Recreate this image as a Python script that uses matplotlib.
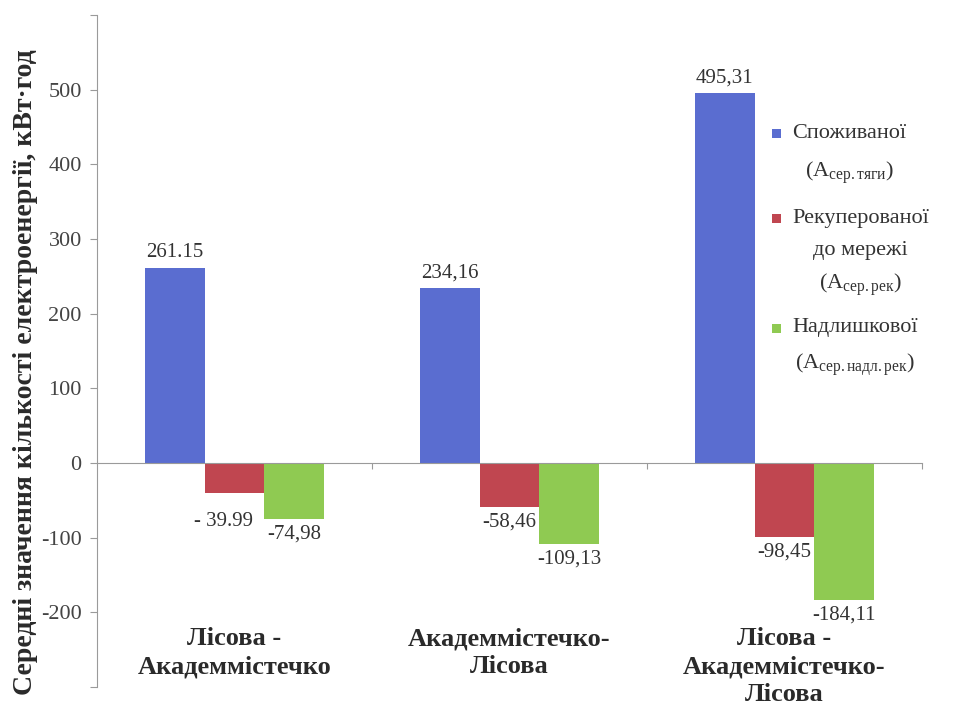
import matplotlib
matplotlib.use("Agg")
import matplotlib.pyplot as plt
import matplotlib.transforms as mtransforms
from matplotlib import font_manager as fm
from matplotlib.patches import Rectangle
import numpy as np

SERIF = "Liberation Serif"
plt.rcParams["font.family"] = [SERIF, "DejaVu Serif"]
plt.rcParams["mathtext.fontset"] = "custom"
plt.rcParams["mathtext.rm"] = SERIF
plt.rcParams["mathtext.it"] = SERIF + ":italic"
plt.rcParams["mathtext.bf"] = SERIF + ":bold"


def serif_bold(size):
    """Bold serif face loaded straight from its file."""
    for f in fm.fontManager.ttflist:
        if f.name == SERIF and f.weight == 700 and f.style == "normal":
            return fm.FontProperties(fname=f.fname, size=size)
    return fm.FontProperties(family=SERIF, weight="bold", size=size)


# Data
categories = ["Лісова -\nАкадеммістечко",
              "Академмістечко-\nЛісова",
              "Лісова -\nАкадеммістечко-\nЛісова"]
consumed = [261.15, 234.16, 495.31]
recuperated = [-39.99, -58.46, -98.45]
excess = [-74.98, -109.13, -184.11]
consumed_labels = ["261.15", "234,16", "495,31"]
recuperated_labels = ["- 39.99", "-58,46", "-98,45"]
excess_labels = ["-74,98", "-109,13", "-184,11"]
legend_lines = [
    ["Споживаної", r"(A$_{\mathrm{сер.тяги}}$)"],
    ["Рекуперованої", "до мережі", r"(A$_{\mathrm{сер.рек}}$)"],
    ["Надлишкової", r"(A$_{\mathrm{сер.надл.рек}}$)"],
]
y_ticks = list(range(-300, 601, 100))
y_tick_labels = ["" if v in (-300, 600) else str(v) for v in y_ticks]

colors = ["#5a6dd0", "#c04650", "#8fca52"]
text_col = "#333333"
axis_col = "#9a9a9a"

W, H = 968, 714
fig = plt.figure(figsize=(W / 100, H / 100), dpi=100)
ax = fig.add_axes([97 / W, 1 - 687 / H, (922 - 97) / W, (687 - 15) / H])

x = np.arange(len(categories))
bw = 0.218
series = [(consumed, consumed_labels), (recuperated, recuperated_labels),
          (excess, excess_labels)]
# value-label offsets in points (series index, bar index) -> (dx, dy)
nudge = {(1, 0): (-8, -10)}
for i, (vals, labs) in enumerate(series):
    xs = x + (i - 1) * bw
    ax.bar(xs, vals, width=bw, color=colors[i], edgecolor="none", zorder=2)
    for j, (xi, v, lab) in enumerate(zip(xs, vals, labs)):
        dx, dy = nudge.get((i, j), (0, 0))
        if v >= 0:
            ax.annotate(lab, (xi, v), xytext=(dx, 4 + dy),
                        textcoords="offset points", ha="center", va="bottom",
                        fontsize=15, color=text_col, family=SERIF)
        else:
            ax.annotate(lab, (xi, v), xytext=(dx, -4 + dy),
                        textcoords="offset points", ha="center", va="top",
                        fontsize=15, color=text_col, family=SERIF)

ax.set_xlim(-0.5, 2.5)
ax.set_ylim(-300, 600)

for s in ("top", "right"):
    ax.spines[s].set_visible(False)
ax.spines["left"].set_color(axis_col)
ax.spines["bottom"].set_position(("data", 0))
ax.spines["bottom"].set_color(axis_col)
ax.spines["bottom"].set_zorder(3)

ax.set_yticks(y_ticks)
ax.set_yticklabels(y_tick_labels, family=SERIF)
ax.tick_params(axis="y", direction="out", length=5, color=axis_col,
               labelsize=16, labelcolor="#444444", pad=6)
ax.set_xticks([0.5, 1.5, 2.5])
ax.set_xticklabels([])
ax.tick_params(axis="x", direction="out", length=4, color=axis_col)

# Category names under the plot
trans = mtransforms.blended_transform_factory(ax.transData, fig.transFigure)
for xi, name in zip(x, categories):
    ax.text(xi, 1 - 627 / H, name, transform=trans, ha="center", va="top",
            fontproperties=serif_bold(19), color="#2a2a2a", linespacing=1.28)

fig.text(26 / W, 1 - 372 / H, "Середні значення кількості електроенергії, кВт·год",
         rotation=90, ha="center", va="center", fontproperties=serif_bold(20),
         color="#2a2a2a")

# Legend drawn by hand: marker beside the first line, text lines centred
# on the block, widest line starting at a common left edge
legend_rows = [[133, 173], [218, 250, 285], [328, 365]]
marker_x, text_left, sq = 776, 792, 9
renderer = fig.canvas.get_renderer()
for lines, ys, col in zip(legend_lines, legend_rows, colors):
    fig.add_artist(Rectangle(((marker_x - sq / 2) / W, 1 - (ys[0] + sq / 2) / H),
                             sq / W, sq / H, transform=fig.transFigure,
                             facecolor=col, edgecolor="none"))
    texts = [fig.text(0, 1 - yy / H, line, ha="center", va="center",
                      fontsize=16, family=SERIF, color=text_col)
             for line, yy in zip(lines, ys)]
    widest = max(t.get_window_extent(renderer).width for t in texts)
    for t in texts:
        t.set_x((text_left + widest / 2) / W)

fig.savefig("out.png", dpi=100)
